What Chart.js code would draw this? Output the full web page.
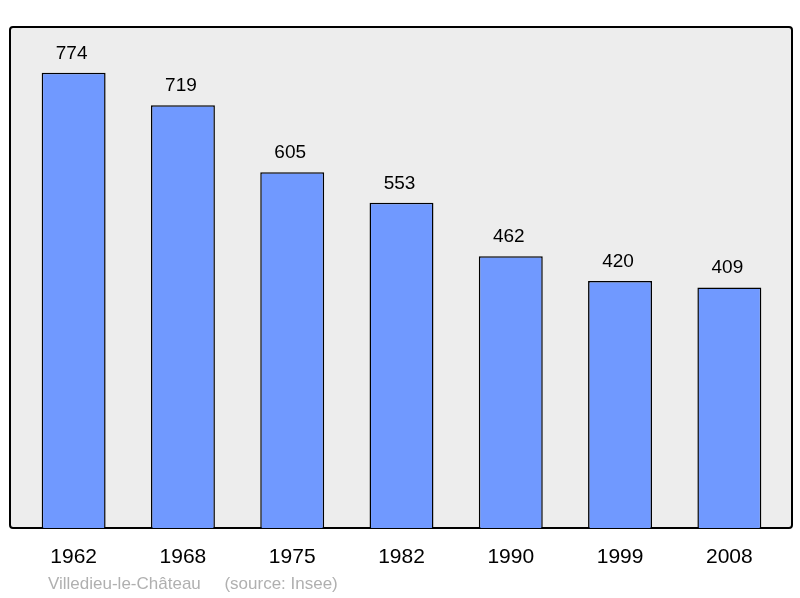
<!DOCTYPE html>
<html><head><meta charset="utf-8">
<script src="https://cdn.jsdelivr.net/npm/chart.js@4"></script>
<style>body{margin:0;background:#fff}#c{display:block}</style>
</head><body>
<div style="width:800px;height:598px"><canvas id="c"></canvas></div>
<script>
var years = ["1962","1968","1975","1982","1990","1999","2008"];
var population = [774,719,605,553,462,420,409];
var note = "Villedieu-le-Château     (source: Insee)";

var frame = {
  id: "frame",
  beforeDatasetsDraw: function(chart){
    var a = chart.chartArea, ctx = chart.ctx;
    ctx.save();
    ctx.fillStyle = "#ededed";
    ctx.strokeStyle = "#000";
    ctx.lineWidth = 2;
    ctx.beginPath();
    ctx.roundRect(a.left - 9, a.top, a.right - a.left + 17, a.bottom - a.top, 3);
    ctx.fill(); ctx.stroke();
    ctx.restore();
  },
  afterDatasetsDraw: function(chart){
    var ctx = chart.ctx;
    ctx.save();
    ctx.font = "19px 'Liberation Sans', Arial, sans-serif";
    ctx.fillStyle = "#000";
    ctx.textAlign = "center";
    ctx.textBaseline = "alphabetic";
    chart.getDatasetMeta(0).data.forEach(function(bar, i){
      ctx.fillText(population[i], bar.x - 2, bar.y - 14);
    });
    ctx.font = "17px 'Liberation Sans', Arial, sans-serif";
    ctx.fillStyle = "#b0b0b0";
    ctx.textAlign = "left";
    ctx.fillText(note, 48, 589);
    ctx.restore();
  }
};

new Chart(document.getElementById("c"), {
  type: "bar",
  data: {
    labels: years,
    datasets: [{
      data: population,
      backgroundColor: "#7099ff",
      borderColor: "#000",
      borderWidth: 1.5,
      barPercentage: 0.585,
      categoryPercentage: 1
    }]
  },
  options: {
    responsive: true,
    maintainAspectRatio: false,
    animation: false,
    layout: {padding: {left: 19, right: 16, top: 27, bottom: 0}},
    plugins: {legend: {display: false}, tooltip: {enabled: false}},
    scales: {
      x: {
        grid: {display: false},
        border: {display: false},
        ticks: {color: "#000", padding: 9, font: {size: 21, family: "'Liberation Sans', Arial, sans-serif"}},
        afterFit: function(s){ s.height = 70; }
      },
      y: {display: false, min: 0, max: 852}
    }
  },
  plugins: [frame]
});
</script>
</body></html>
